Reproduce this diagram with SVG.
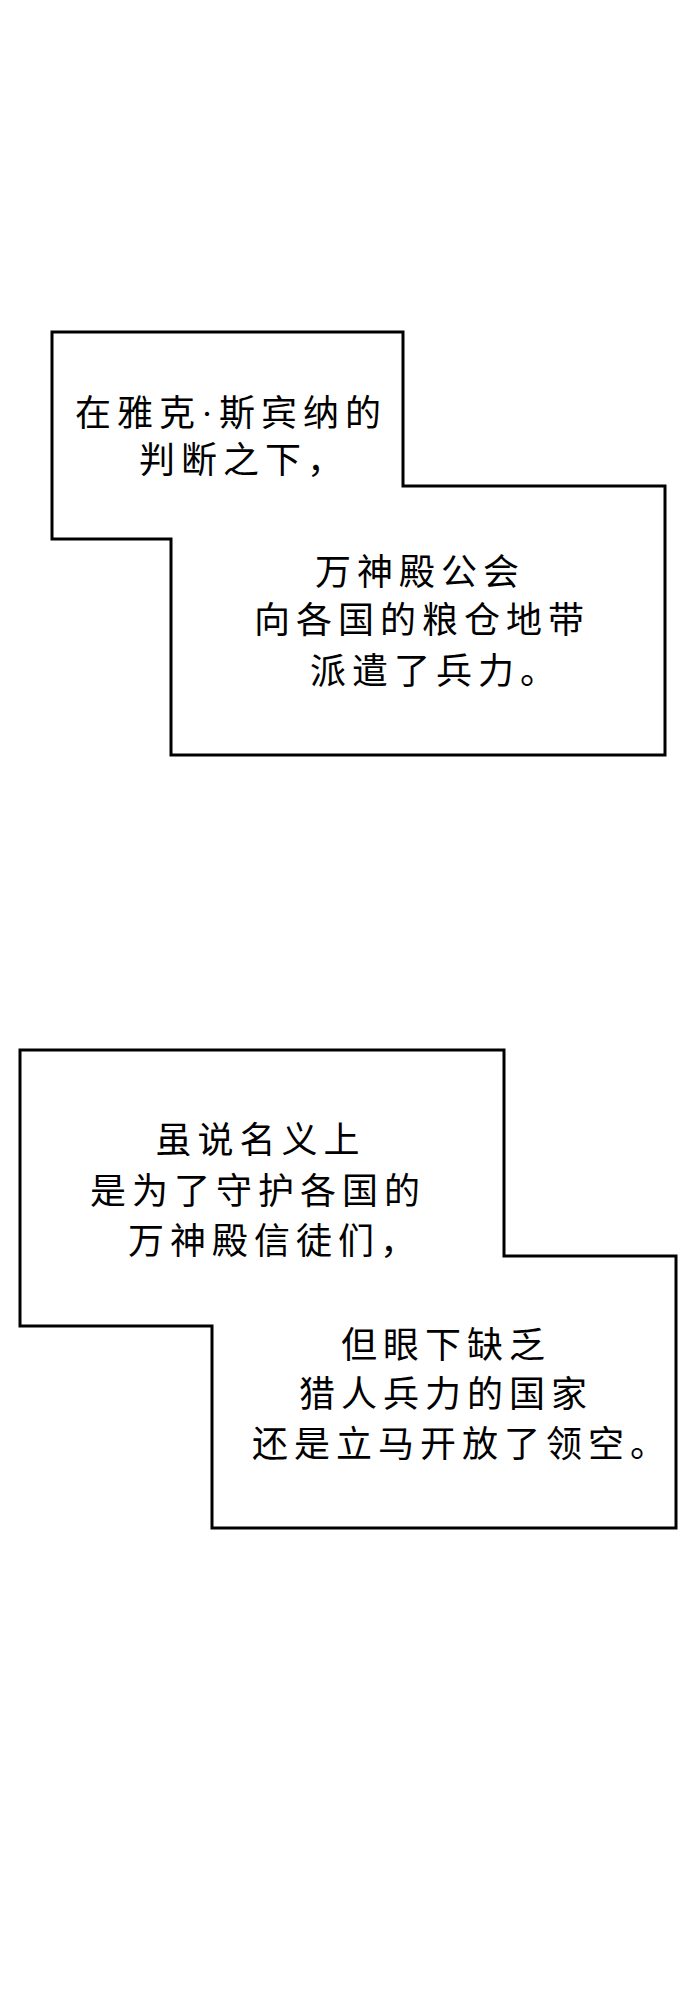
<svg xmlns="http://www.w3.org/2000/svg" width="690" height="2000" viewBox="0 0 690 2000">
  <style>
    .box { fill: #ffffff; stroke: #000000; stroke-width: 3; stroke-linejoin: miter; }
    .t { font-family: "Noto Sans CJK SC", "Noto Sans CJK TC", sans-serif; font-size: 36px; letter-spacing: 6px; fill: #000000; }
    .dot { font-family: "Liberation Serif", serif; }
  </style>
  <rect x="0" y="0" width="690" height="2000" fill="#ffffff"/>
  <g id="connectors"></g>
  <g id="box1">
    <polygon class="box" points="52,332 403,332 403,486 665,486 665,755 171,755 171,539 52,539"/>
    <text class="t" x="75" y="425.5">在雅克<tspan class="dot">·</tspan>斯宾纳的</text>
    <text class="t" x="139" y="472.5">判断之下，</text>
    <text class="t" x="315" y="584.5">万神殿公会</text>
    <text class="t" x="254" y="632.5">向各国的粮仓地带</text>
    <text class="t" x="310" y="683.5">派遣了兵力。</text>
  </g>
  <g id="box2">
    <polygon class="box" points="20,1050 504,1050 504,1256 676,1256 676,1528 212,1528 212,1326 20,1326"/>
    <text class="t" x="155.5" y="1152.5">虽说名义上</text>
    <text class="t" x="90" y="1203.5">是为了守护各国的</text>
    <text class="t" x="128" y="1253.5">万神殿信徒们，</text>
    <text class="t" x="341" y="1357.5">但眼下缺乏</text>
    <text class="t" x="299" y="1406.5">猎人兵力的国家</text>
    <text class="t" x="252" y="1456.5">还是立马开放了领空。</text>
  </g>
</svg>
